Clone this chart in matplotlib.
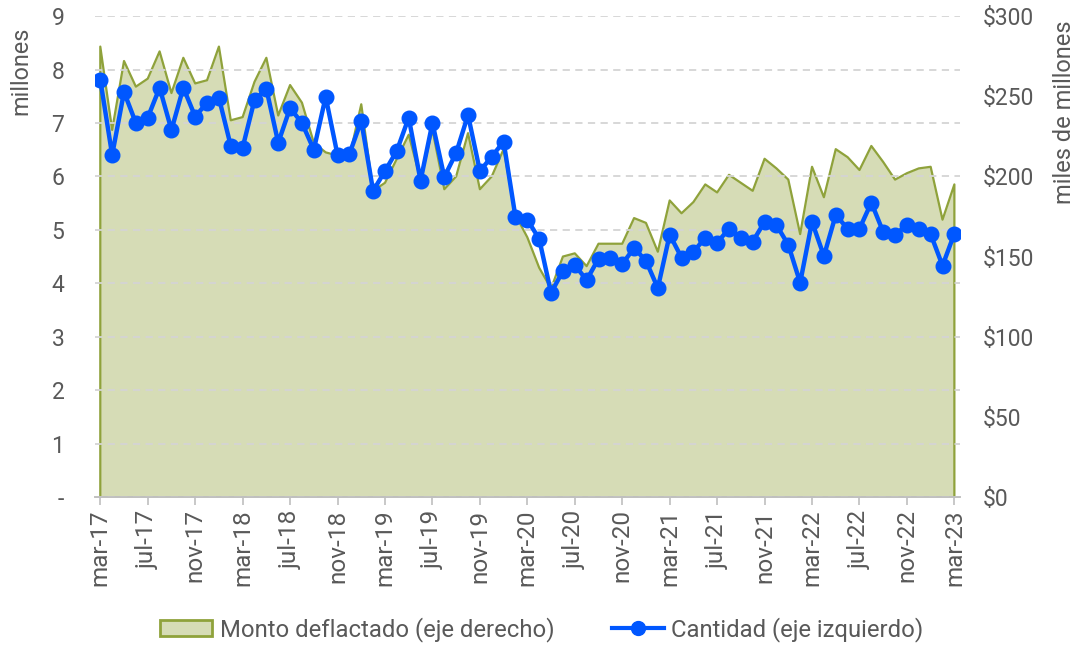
import matplotlib
matplotlib.use("Agg")
import matplotlib.pyplot as plt
from matplotlib.patches import Patch
from matplotlib.lines import Line2D

plt.rcParams['font.family'] = ['Roboto', 'DejaVu Sans']

# monthly series, mar-17 .. mar-23
cantidad = [7.81, 6.40, 7.58, 7.00, 7.10, 7.66, 6.87, 7.66, 7.12, 7.38,
            7.47, 6.57, 6.54, 7.43, 7.64, 6.63, 7.28, 7.00, 6.50, 7.49,
            6.40, 6.42, 7.04, 5.73, 6.10, 6.48, 7.10, 5.92, 7.00, 5.99,
            6.44, 7.15, 6.10, 6.37, 6.65, 5.24, 5.19, 4.83, 3.82, 4.23,
            4.34, 4.06, 4.46, 4.48, 4.36, 4.66, 4.42, 3.91, 4.91, 4.48,
            4.59, 4.85, 4.76, 5.02, 4.85, 4.78, 5.15, 5.09, 4.72, 4.01,
            5.15, 4.51, 5.28, 5.02, 5.02, 5.51, 4.96, 4.91, 5.09, 5.02,
            4.92, 4.33, 4.93]

monto = [281, 229, 272, 256, 261, 278, 252, 274, 258, 260,
         281, 235, 237, 259, 274, 238, 257, 246, 221, 215,
         213, 212, 245, 191, 196, 211, 226, 198, 229, 192,
         200, 227, 192, 200, 217, 176, 162, 143, 130, 150,
         152, 144, 158, 158, 158, 174, 171, 153, 185, 177,
         184, 195, 190, 201, 196, 191, 211, 205, 198, 164,
         206, 187, 217, 212, 204, 219, 209, 198, 202, 205,
         206, 173, 195]

tick_labels = ["mar-17", "jul-17", "nov-17", "mar-18", "jul-18", "nov-18",
               "mar-19", "jul-19", "nov-19", "mar-20", "jul-20", "nov-20",
               "mar-21", "jul-21", "nov-21", "mar-22", "jul-22", "nov-22",
               "mar-23"]

left_labels = ["-", "1", "2", "3", "4", "5", "6", "7", "8", "9"]
right_labels = ["$0", "$50", "$100", "$150", "$200", "$250", "$300"]

TXT = '#595959'
GRID = '#d4d4d4'
FILL = '#d6dcb6'
EDGE = '#8fa23b'
BLUE = '#0057ff'

x = list(range(len(cantidad)))

fig = plt.figure(figsize=(10.79, 6.45), dpi=100)
ax1 = fig.add_axes([0.088, 0.2295, 0.802, 0.7455])
ax2 = ax1.twinx()

# area on the right axis
ax2.fill_between(x, 0, monto, color=FILL, linewidth=0)
ax2.plot([x[0]] + x + [x[-1]], [0] + monto + [0], color=EDGE, lw=1.6)
ax2.set_ylim(0, 300)
ax2.set_yticks(range(0, 301, 50))
ax2.set_yticklabels(right_labels)
ax2.tick_params(axis='y', length=0, pad=16, labelsize=16.5, labelcolor=TXT)

# line on the left axis, drawn above the area
ax1.set_zorder(ax2.get_zorder() + 1)
ax1.patch.set_visible(False)
ax1.plot(x, cantidad, color=BLUE, lw=3.2, marker='o', markersize=10.5)
ax1.set_ylim(0, 9)
ax1.set_yticks(range(0, 10))
ax1.set_yticklabels(left_labels)
ax1.set_xlim(-0.45, 72.5)
ax1.set_xticks(range(0, 73, 4))
ax1.set_xticklabels(tick_labels, rotation=90)
ax1.tick_params(axis='y', length=0, pad=22, labelsize=16.5, labelcolor=TXT)
ax1.tick_params(axis='x', length=6, color='#bfbfbf', width=1.2, pad=3,
                labelsize=17.5, labelcolor=TXT)
ax1.yaxis.grid(True, color=GRID, linestyle=(0, (4, 3)), lw=1.3)

for ax in (ax1, ax2):
    for s in ('top', 'left', 'right'):
        ax.spines[s].set_visible(False)
    ax.spines['bottom'].set_color('#bfbfbf')
    ax.spines['bottom'].set_linewidth(1.2)

fig.text(0.019, 0.958, "millones", rotation=90, ha='center', va='top',
         fontsize=16.8, color=TXT)
fig.text(0.987, 0.968, "miles de millones", rotation=90, ha='center', va='top',
         fontsize=17, color=TXT)

handles = [Patch(facecolor=FILL, edgecolor=EDGE, linewidth=2),
           Line2D([], [], color=BLUE, lw=3, marker='o', markersize=10)]
fig.legend(handles, ["Monto deflactado (eje derecho)", "Cantidad (eje izquierdo)"],
           loc='center', bbox_to_anchor=(0.502, 0.024), ncol=2, frameon=False,
           fontsize=17.2, labelcolor=TXT, handlelength=2.2, handleheight=0.6,
           handletextpad=0.3, columnspacing=2.4)

fig.savefig("out.png", dpi=100)
